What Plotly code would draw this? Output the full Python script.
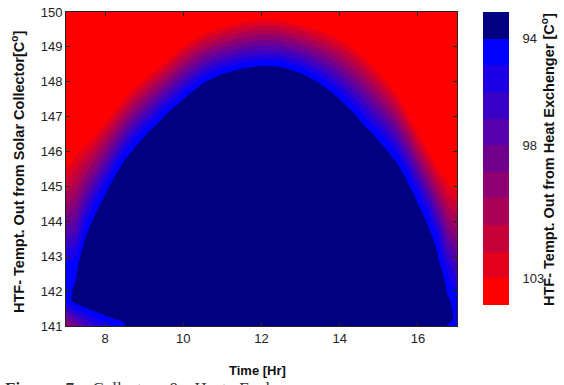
import numpy as np
import plotly.graph_objects as go

# ---- data -----------------------------------------------------------------
# Columns of the field (time of day, hours)
time_hr = [7.0, 7.25, 7.5, 7.75, 8.0, 8.25, 8.5, 8.75, 9.0, 9.5, 10.0, 10.5, 11.0,
           11.5, 12.0, 12.5, 13.0, 13.5, 14.0, 14.5, 15.0, 15.25, 15.5, 15.75, 16.0,
           16.25, 16.5, 16.75, 17.0]
# Height (collector outlet temp, C) where the HX outlet temp crosses 94 C on the
# upper side of the dark core, and on the lower side of it
core_top = [142.70, 142.30, 143.55, 144.20, 144.75, 145.30, 145.75, 146.10, 146.42,
            147.00, 147.50, 147.95, 148.22, 148.38, 148.45, 148.42, 148.25, 147.95,
            147.50, 146.92, 146.30, 145.98, 145.60, 145.10, 144.50, 143.90, 143.10,
            141.90, 141.90]
core_bottom = [141.72, 141.63, 141.52, 141.41, 141.30, 141.19, 141.08, None, None,
               None, None, None, None, None, None, None, None, None, None, None, None,
               None, None, None, None, None, None, 141.05, None]
# Value of the HX outlet temperature inside the core (below 94 = dark band)
core_value = [94.8, 93, 93, 93, 93, 93, 93, 93, 93, 93, 93, 93, 93, 93, 93, 93, 93,
              93, 93, 93, 93, 93, 93, 93, 93, 93, 93, 93, 94.6]
# Heights of the 95 C and 103 C isotherms above the core
level95 = [142.85, 143.00, 144.00, 144.60, 145.10, 145.60, 146.05, 146.40, 146.70,
           147.25, 147.72, 148.15, 148.40, 148.55, 148.62, 148.60, 148.44, 148.16,
           147.74, 147.20, 146.60, 146.30, 145.92, 145.45, 144.90, 144.35, 143.65,
           142.60, 142.00]
level103 = [145.50, 145.85, 146.15, 146.45, 146.80, 147.15, 147.50, 147.80, 148.05,
            148.50, 149.00, 149.35, 149.55, 149.70, 149.77, 149.74, 149.62, 149.45,
            149.20, 148.80, 148.25, 147.92, 147.55, 147.05, 146.50, 146.00, 145.50,
            145.10, 144.85]
# HX outlet temperature on the 141 C line below the core (left and right corners)
z_at_141 = [100.0, 98.5, 97.2, 96.0, 95.4, 94.8, 94.15, None, None, None, None, None,
            None, None, None, None, None, None, None, None, None, None, None, None,
            None, None, None, 94.3, None]

x_ticks = [8, 10, 12, 14, 16]
y_ticks = [141, 142, 143, 144, 145, 146, 147, 148, 149, 150]
cbar_levels = [93.5, 94.5, 95.5, 96.5, 97.5, 98.5, 99.5, 100.5, 101.5, 102.5, 103.5]
cbar_ticks = [94, 98, 103]
band_colors = ["#000080", "#0000ff", "#1c00e3", "#3900c6", "#5500aa", "#71008e",
               "#8e0071", "#aa0055", "#c60039", "#e3001c", "#ff0000"]

# ---- grid table that the contour trace needs --------------------------------
y_grid = np.round(np.arange(141.0, 150.0001, 0.05), 3)
cols = []
for i in range(len(time_hr)):
    ct, cv = core_top[i], core_value[i]
    y95, y103 = level95[i], level103[i]
    edge = max(94.0, cv)
    s1 = (95.0 - edge) / (y95 - ct)
    s2 = 8.0 / (y103 - y95)
    zlow = edge - (ct - 130.0) * s1 if cv < 94 else cv
    up = np.interp(y_grid, [130.0, ct, y95, y103, 151.0],
                   [zlow, edge, 95.0, 103.0, 103.0 + (151.0 - y103) * s2])
    if z_at_141[i] is not None and core_bottom[i] is not None:
        cb = core_bottom[i]
        s3 = (z_at_141[i] - edge) / (cb - 141.0)
        lo = np.interp(y_grid, [141.0, cb, cb + 10.0],
                       [z_at_141[i], edge, edge - 10.0 * s3])
        up = np.maximum(up, lo)
    cols.append(up)
Z = np.array(cols).T

n = len(band_colors)
colorscale = [[k / (n - 1), c] for k, c in enumerate(band_colors)]

# ---- geometry -----------------------------------------------------------------
W, H = 564, 385
L, R, T, B = 66, 55, 12, 59
pw, ph = W - L - R, H - T - B
main_right = 457
cb_left, cb_right, cb_bottom = 483, 509, 305


def px(xp):
    return (xp - L) / pw


def py(yp):
    return (H - B - yp) / ph


fig = go.Figure()
fig.add_trace(go.Contour(
    x=time_hr, y=y_grid, z=Z,
    autocontour=False,
    contours=dict(start=94, end=103, size=1, coloring="fill", showlines=False),
    line=dict(width=0, smoothing=1.3),
    colorscale=colorscale, showscale=False,
    hoverinfo="skip", xaxis="x", yaxis="y",
))
fig.add_trace(go.Heatmap(
    x=[0], y=cbar_levels, z=[[v] for v in cbar_levels],
    zmin=cbar_levels[0], zmax=cbar_levels[-1],
    colorscale=colorscale, showscale=False,
    hoverinfo="skip", xaxis="x2", yaxis="y2",
))

tickfont = dict(family="Liberation Sans", size=13, color="#222")
axis_common = dict(showline=True, linecolor="#222", linewidth=1, mirror="ticks",
                   ticks="inside", ticklen=4, tickcolor="#222", showgrid=False,
                   zeroline=False, tickfont=tickfont)

title_font = dict(family="Liberation Sans", size=13, color="#111")
vtitle_font = dict(family="Liberation Sans", size=14.5, color="#111")
gap = "&nbsp;&nbsp; "
annotations = [
    dict(text="<b>Time [Hr]</b>", x=px(257.5), y=py(370), xref="paper", yref="paper",
         showarrow=False, xanchor="center", yanchor="middle", font=title_font),
    dict(text="<b>HTF- Tempt. Out from Solar Collector[C<sup>o</sup>]</b>",
         x=px(18), y=py(172), xref="paper", yref="paper", textangle=-90,
         showarrow=False, xanchor="center", yanchor="middle", font=vtitle_font),
    dict(text="<b>HTF- Tempt. Out from Heat Exchenger [C<sup>o</sup>]</b>",
         x=px(548), y=py(160), xref="paper", yref="paper", textangle=-90,
         showarrow=False, xanchor="center", yanchor="middle", font=vtitle_font),
    dict(text="<b>Figure" + gap + "7:</b>" + gap + "Collector" + gap + "&" + gap
              + "Heat" + gap + "Exchanger",
         x=px(3), y=py(377.5), xref="paper", yref="paper",
         showarrow=False, xanchor="left", yanchor="top",
         font=dict(family="Liberation Serif", size=17, color="#333")),
]

fig.update_layout(
    width=W, height=H,
    margin=dict(l=L, r=R, t=T, b=B, autoexpand=False),
    paper_bgcolor="white", plot_bgcolor="white",
    xaxis=dict(domain=[0, px(main_right)], range=[7, 17], tickvals=x_ticks,
               anchor="y", **axis_common),
    yaxis=dict(domain=[0, 1], range=[141, 150], tickvals=y_ticks, anchor="x",
               **axis_common),
    xaxis2=dict(domain=[px(cb_left), px(cb_right)], range=[-0.5, 0.5],
                visible=False, anchor="y2"),
    yaxis2=dict(domain=[py(cb_bottom), 1], range=[104, 93], anchor="x2",
                side="right", tickvals=cbar_ticks,
                ticktext=[str(v) for v in cbar_ticks],
                ticks="outside", ticklen=10, tickcolor="rgba(0,0,0,0)",
                showline=False, showgrid=False, zeroline=False, tickfont=tickfont),
    annotations=annotations,
    showlegend=False,
)

fig.write_html("out.html")
